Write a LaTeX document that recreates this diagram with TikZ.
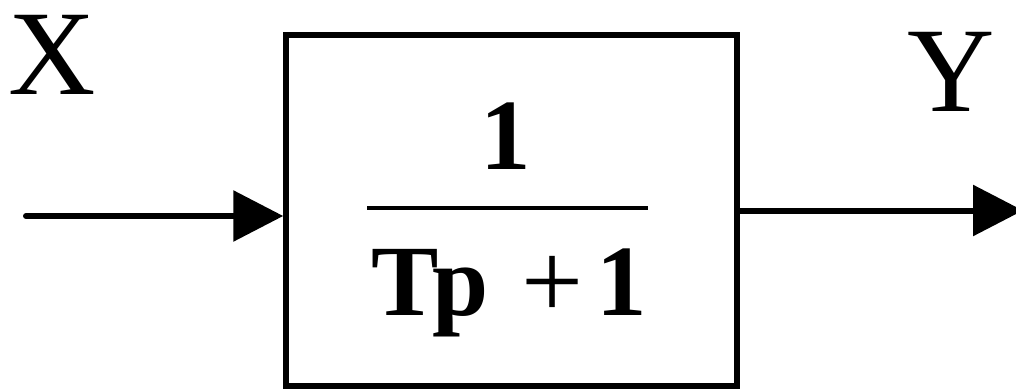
\documentclass[tikz,border=0pt]{standalone}
\usepackage{fontspec}
\setmainfont{Liberation Serif}
\usetikzlibrary{arrows.meta}
\begin{document}
\begin{tikzpicture}[x=1pt,y=-1pt,
  blockbox/.style={draw, line width=5.5pt, minimum width=451pt, minimum height=351pt, inner sep=0pt},
  sig/.style={line width=6pt, line cap=round, -{Triangle[length=50pt,width=50pt]}},
  biglabel/.style={inner sep=0pt, anchor=base, font=\fontsize{121}{130}\selectfont},
  fraclabel/.style={inner sep=0pt, font=\fontsize{101}{110}\selectfont\bfseries}]
\useasboundingbox (0,0) rectangle (1016,390);
\node[blockbox] (blk) at (511.5,210.5) {};
\node[fraclabel, anchor=base] (num) at (506,170) {1};
\node[fraclabel, anchor=base west] (den) at (371,315) {T\kern-6pt p\kern33pt\raisebox{-3pt}{\mdseries\fontsize{110}{120}\selectfont +}\kern13pt 1};
\draw[line width=4pt] (367,208) -- (648,208);
\node[biglabel] (xl) at (52.5,95) {X};
\node[biglabel] (yl) at (951,112) {Y};
\coordinate (xin) at (26,216);
\coordinate (yout) at (1023,210.5);
\draw[sig] (xin) -- (xin -| blk.west);
\draw[sig] (blk.east) -- (yout);
\end{tikzpicture}
\end{document}
